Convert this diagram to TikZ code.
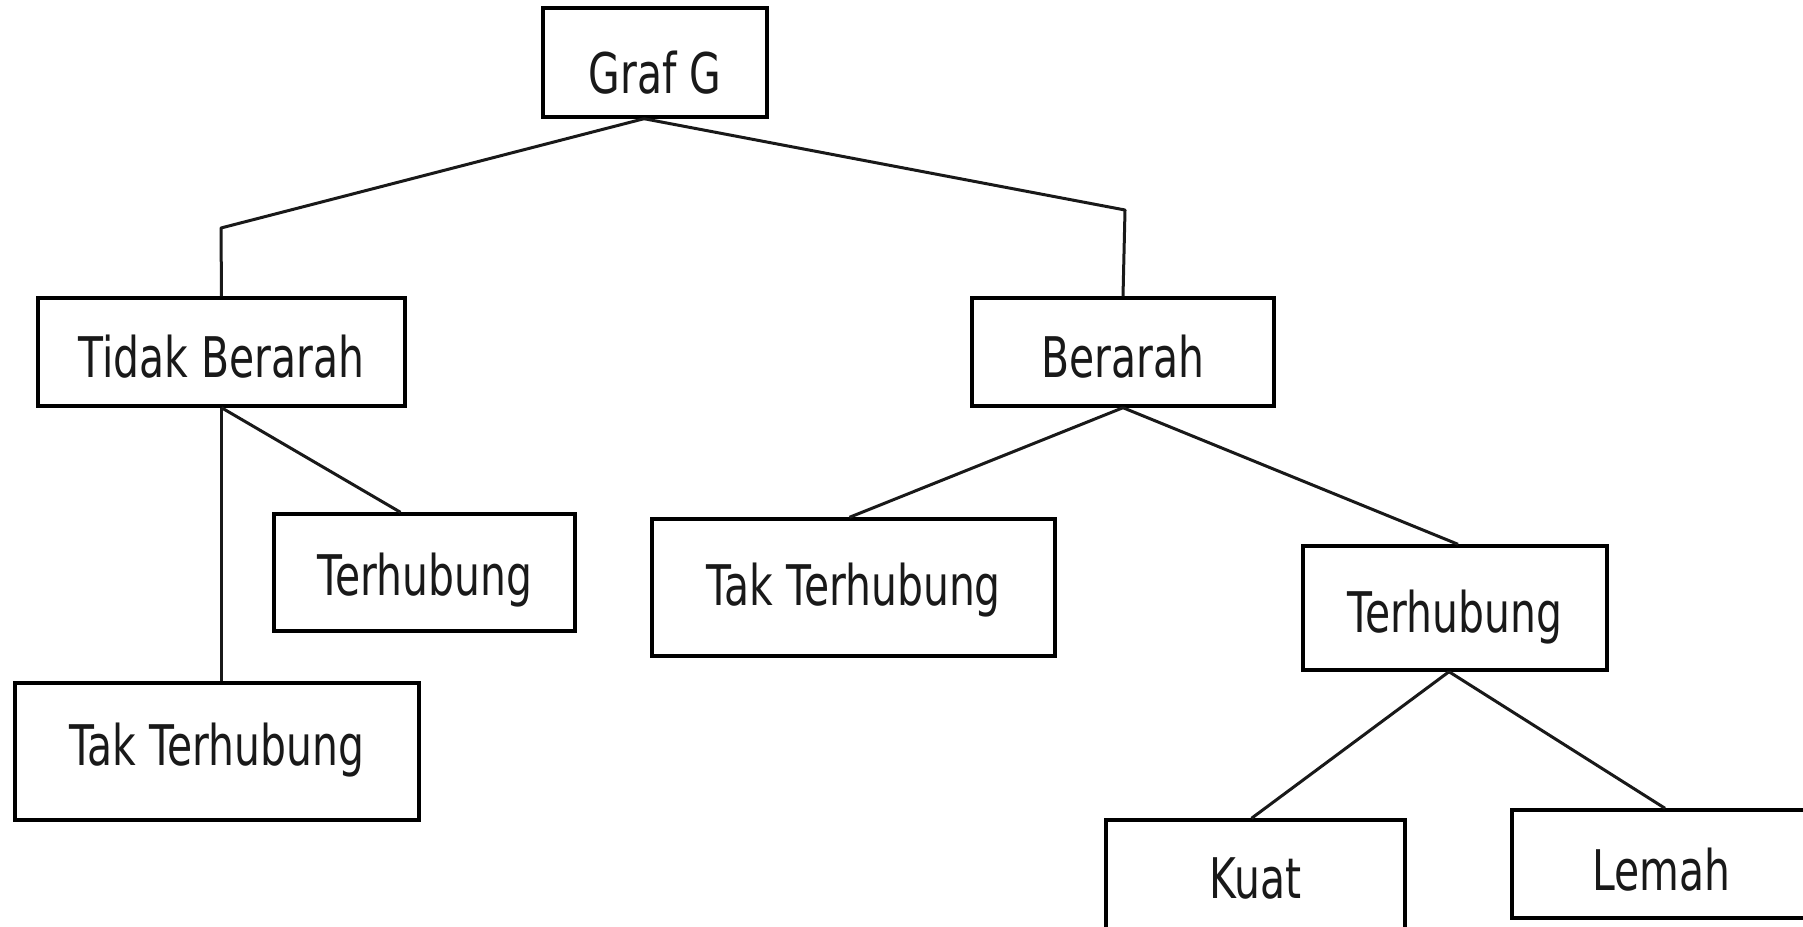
\documentclass[tikz,border=0pt]{standalone}
\usepackage{fontspec}
\setmainfont{DejaVu Sans}[FakeStretch=0.73]
\begin{document}
\begin{tikzpicture}[x=1pt,y=-1pt,
  box/.style={draw=black,line width=3.4pt,rectangle,inner sep=0pt,
    font=\fontsize{56}{64}\selectfont,text=black!90},
  bl/.style={text height=#1,text depth=0pt},
  link/.style={draw=black!90,line width=3pt,line join=round}]
  \fill[white] (0,0) rectangle (1803,926);
  \useasboundingbox (0,0) rectangle (1803,926);
  \clip (0,0) rectangle (1803,926);

  % boxes (bl sets how far the baseline sits below the box centre, doubled)
  \node[box,bl=61pt,minimum width=224pt,minimum height=109pt] (g)   at (655,62.5)  {Graf G};
  \node[box,bl=50pt,minimum width=367pt,minimum height=108pt] (tb)  at (221.5,352) {Tidak Berarah};
  \node[box,bl=50pt,minimum width=302pt,minimum height=108pt] (b)   at (1123,352)  {Berarah};
  \node[box,bl=45pt,minimum width=301pt,minimum height=117pt] (t1)  at (424.5,572.5) {Terhubung};
  \node[box,bl=27pt,minimum width=404pt,minimum height=137pt] (tt1) at (217,751.5) {Tak Terhubung};
  \node[box,bl=36pt,minimum width=403pt,minimum height=137pt] (tt2) at (853.5,587.5) {Tak Terhubung};
  \node[box,bl=48pt,minimum width=304pt,minimum height=124pt] (t2)  at (1455,608)  {Terhubung};
  \node[box,bl=40pt,minimum width=299pt,minimum height=116pt] (k)   at (1255.5,878) {Kuat};
  \node[box,bl=52pt,minimum width=298pt,minimum height=108pt] (l)   at (1661,864)  {Lemah};

  % junction points
  \coordinate (gj)  at ([xshift=-11pt]g.south);
  \coordinate (gl)  at (221,228);
  \coordinate (gr)  at (1125,210);
  \coordinate (t1j) at ([xshift=-24pt]t1.north);
  \coordinate (tt1j) at ([xshift=4pt]tt1.north);
  \coordinate (tt2j) at ([xshift=-4pt]tt2.north);
  \coordinate (t2j) at ([xshift=3pt]t2.north);
  \coordinate (t2s) at ([xshift=-6pt]t2.south);
  \coordinate (kj)  at ([xshift=-4pt]k.north);
  \coordinate (lj)  at ([xshift=4pt]l.north);

  % connectors
  \draw[link] (gj) -- (gl) -- (tb.north);
  \draw[link] (gj) -- (gr) -- (b.north);
  \draw[link] (tb.south) -- (t1j);
  \draw[link] (tb.south) -- (tb.south |- tt1j);
  \draw[link] (b.south) -- (tt2j);
  \draw[link] (b.south) -- (t2j);
  \draw[link] (t2s) -- (kj);
  \draw[link] (t2s) -- (lj);
\end{tikzpicture}
\end{document}
